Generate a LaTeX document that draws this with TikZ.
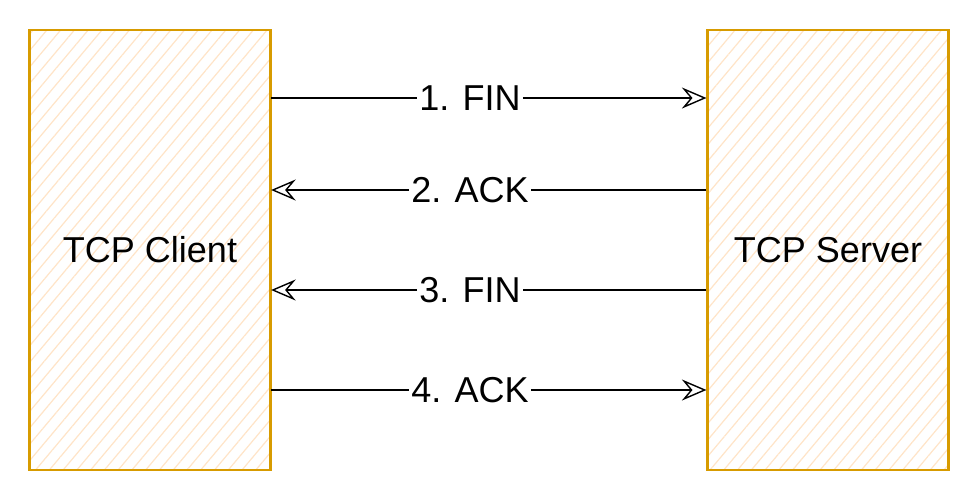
\documentclass[tikz,border=0pt]{standalone}
\usepackage{fontspec}
\setmainfont{Liberation Sans}
\definecolor{boxstroke}{RGB}{215,155,0}
\definecolor{boxhatch}{RGB}{255,228,200}
\usepackage{tikz}
\usetikzlibrary{arrows.meta,patterns.meta}

\begin{document}
\begin{tikzpicture}

%
% Styles
%
\tikzstyle{peer}     = [draw=boxstroke,line width=1.2pt,minimum width=4.82cm,minimum height=8.8cm,
                        pattern={Lines[angle=50,distance=6pt,line width=0.7pt]},pattern color=boxhatch]
\tikzstyle{peername} = [font=\fontsize{20.5}{24}\selectfont]
\tikzstyle{msg}      = [-{Stealth[open,length=14pt,width=12pt,inset=5pt]},line width=0.8pt]
\tikzstyle{label}    = [fill=white,inner sep=1pt,font=\fontsize{20.5}{24}\selectfont]

\useasboundingbox (0,0) rectangle (19.52,-9.92);

\node[peer] (client) at ( 3.0,-5.0) {};
\node[peer] (server) at (16.56,-5.0) {};
\node[peername] at (client.center) {TCP Client};
\node[peername] at (server.center) {TCP Server};

\node[label] (fin1) at (9.4,-1.96) {1. FIN};
\node[label] (ack2) at (9.4,-3.80) {2. ACK};
\node[label] (fin3) at (9.4,-5.80) {3. FIN};
\node[label] (ack4) at (9.4,-7.80) {4. ACK};

\draw[msg] (client.east |- fin1) -- (fin1) -- (server.west |- fin1);
\draw[msg] (server.west |- ack2) -- (ack2) -- (client.east |- ack2);
\draw[msg] (server.west |- fin3) -- (fin3) -- (client.east |- fin3);
\draw[msg] (client.east |- ack4) -- (ack4) -- (server.west |- ack4);

\end{tikzpicture}
\end{document}
